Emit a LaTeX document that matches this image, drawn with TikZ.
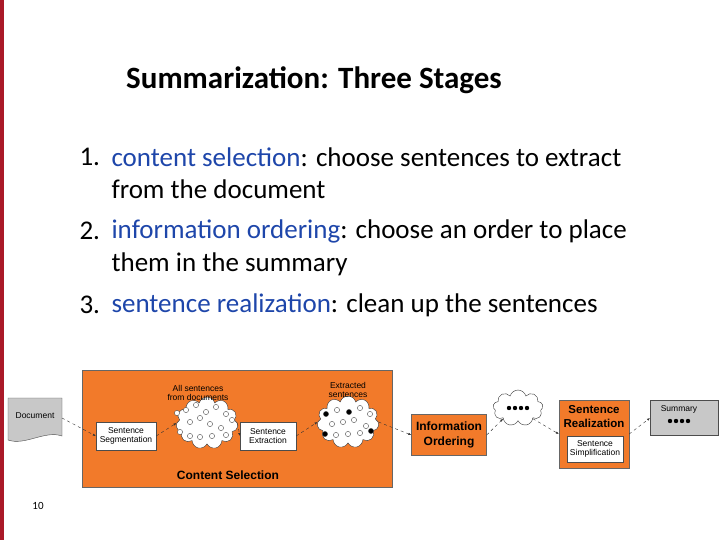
\documentclass[tikz,border=0pt]{standalone}
\usepackage{fontspec}
\setmainfont{Carlito}
\setsansfont{Liberation Sans}
\usetikzlibrary{positioning,shapes.symbols,arrows.meta}
\definecolor{slidered}{RGB}{170,25,40}
\definecolor{termblue}{RGB}{30,70,170}
\definecolor{stageorange}{RGB}{242,122,42}
\definecolor{docgrey}{RGB}{200,200,200}
\tikzset{
  plain/.style={draw=black!70, fill=white, font=\sffamily\fontsize{8.5}{9.5}\selectfont, align=center, inner sep=1pt},
  stage/.style={draw=black!60, fill=stageorange, font=\sffamily\bfseries\fontsize{12}{15}\selectfont, align=center},
  puff/.style={cloud, cloud puffs=11, draw=black!80, fill=white, aspect=1.3},
  flow/.style={-{Latex[length=3pt]}, dashed, black!80, thin},
  note/.style={font=\sffamily\fontsize{8.5}{9.5}\selectfont, align=center},
  item/.style={anchor=west, font=\fontsize{27}{30}\selectfont},
}
\begin{document}
\begin{tikzpicture}[x=1pt,y=-1pt]
  \useasboundingbox (0,0) rectangle (720,540);
  \fill [slidered] (0,0) rectangle (4,540);

  \node (title) [font=\bfseries\fontsize{31}{34}\selectfont] at (314,80) {Summarization: Three Stages};

  \node (n1) [item] at (76,157) {1.};
  \node (t1) [item] at (108,157) {\textcolor{termblue}{content selection}: choose sentences to extract};
  \node (t1b) [item] at (108,189) {from the document};
  \node (n2) [item] at (76,231) {2.};
  \node (t2) [item] at (108,231) {\textcolor{termblue}{information ordering}: choose an order to place};
  \node (t2b) [item] at (108,264) {them in the summary};
  \node (n3) [item] at (76,305) {3.};
  \node (t3) [item] at (108,305) {\textcolor{termblue}{sentence realization}: clean up the sentences};

  % content selection block
  \draw [fill=stageorange, draw=black!60] (82,370) rectangle (392,487);
  \node (cs) [font=\sffamily\bfseries\fontsize{12}{14}\selectfont] at (228,475) {Content Selection};

  % document
  \draw [fill=docgrey, draw=black!70] (8,398) -- (62,398) -- (62,436)
    .. controls (45,430) and (25,446) .. (8,440) -- cycle;
  \node (doc) [note] at (35,416) {Document};

  \node (seg) [plain, minimum width=60, minimum height=28] at (126,436) {Sentence\\Segmentation};
  \node (c1) [puff, minimum width=62, minimum height=52] at (207,423) {};
  \node (l1) [note] at (198,393) {All sentences\\from documents};
  \node (ext) [plain, minimum width=56, minimum height=28] at (268,436) {Sentence\\Extraction};
  \node (c2) [puff, minimum width=62, minimum height=52] at (348,422) {};
  \node (l2) [note] at (348,390) {Extracted\\sentences};

  % dots in clouds
  \foreach \x/\y in {177/413, 186/410, 196/405, 206/412, 216/407, 226/414, 232/420, 190/422, 200/418, 210/424, 221/428, 180/432, 190/436, 200/437, 212/436, 226/435}
    \draw [fill=white, draw=black!70, thin] (\x,\y) circle (2.6);
  \foreach \x/\y/\c in {326/414/black, 337/410/white, 349/412/black, 360/408/white, 370/414/white, 332/424/white, 343/422/white, 354/420/white, 366/426/white, 325/434/black, 336/435/white, 348/434/white, 360/433/white, 371/431/black}
    \draw [fill=\c, draw=black!70, thin] (\x,\y) circle (2.6);

  \node (io) [stage, minimum width=75, minimum height=41, inner sep=1pt] at (449,435) {Information\\Ordering};
  \node (c3) [puff, cloud puffs=9, minimum width=50, minimum height=36] at (518,408) {};
  \foreach \x in {509,515,521,527}
    \fill (\x,408) circle (2.2);

  \node (sr) [stage, minimum width=70, minimum height=68] at (594,434) {};
  \node (srl) [font=\sffamily\bfseries\fontsize{11.5}{14}\selectfont, align=center] at (594,417) {Sentence\\Realization};
  \node (simp) [plain, minimum width=56, minimum height=26] at (595,449) {Sentence\\Simplification};

  \draw [fill=docgrey, draw=black!70] (650,400) rectangle (718,435);
  \node (sum) [note] at (679,409) {Summary};
  \foreach \x in {670,676,682,688}
    \fill (\x,421) circle (2.2);
  \coordinate (sumw) at (650,418);

  \node (pg) [font=\fontsize{11}{12}\selectfont] at (38,506) {10};

  \draw [flow] (62,418) -- (seg.west);
  \draw [flow] (seg.east) -- (c1.west);
  \draw [flow] (c1.east) -- (ext.west);
  \draw [flow] (ext.east) -- (c2.west);
  \draw [flow] (c2.east) -- (io.west);
  \draw [flow] (io.east) -- (c3.south west);
  \draw [flow] (c3.south east) -- (sr.west);
  \draw [flow] (sr.east) -- (sumw);
\end{tikzpicture}
\end{document}
